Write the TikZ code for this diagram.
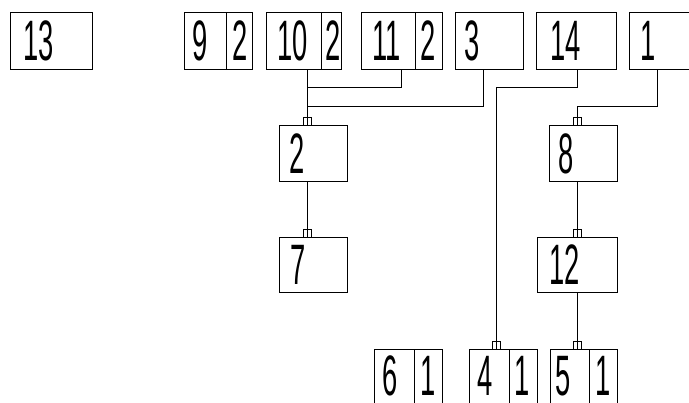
\documentclass[tikz,border=0pt]{standalone}
\usepackage{fontspec}
\setmainfont{Liberation Sans}
\begin{document}
\begin{tikzpicture}[x=1pt,y=-1pt,
  box/.style={draw, line width=0.9pt, rectangle, inner sep=0pt},
  num/.style={inner sep=0pt, font=\fontsize{57}{60}\selectfont},
  tab/.style={draw, line width=0.8pt, rectangle, inner sep=0pt, minimum width=8pt, minimum height=8pt},
  wire/.style={line width=0.8pt}]
\newcommand{\dg}[1]{\scalebox{0.48}[1]{#1}}
\clip (0,0) rectangle (689,403);
\fill[white] (0,0) rectangle (689,403);
% top row
\node[box, minimum width=82pt, minimum height=57pt] (b13) at (51,40.5) {};
\node[box, minimum width=42pt, minimum height=57pt] (b9a) at (205,40.5) {};
\node[box, minimum width=26pt, minimum height=57pt] (b9b) at (239,40.5) {};
\node[box, minimum width=55pt, minimum height=57pt] (b10a) at (293.5,40.5) {};
\node[box, minimum width=20pt, minimum height=57pt] (b10b) at (331,40.5) {};
\node[box, minimum width=54pt, minimum height=57pt] (b11a) at (388,40.5) {};
\node[box, minimum width=27pt, minimum height=57pt] (b11b) at (428.5,40.5) {};
\node[box, minimum width=68pt, minimum height=57pt] (b3) at (489,40.5) {};
\node[box, minimum width=80pt, minimum height=57pt] (b14) at (576,40.5) {};
\node[box, minimum width=80pt, minimum height=57pt] (b1) at (669,40.5) {};
% middle
\node[box, minimum width=68pt, minimum height=56pt] (b2) at (313,153) {};
\node[box, minimum width=68pt, minimum height=56pt] (b8) at (583,153) {};
\node[box, minimum width=68pt, minimum height=55pt] (b7) at (313,264.5) {};
\node[box, minimum width=80pt, minimum height=55pt] (b12) at (577,264.5) {};
% bottom row
\node[box, minimum width=40pt, minimum height=56pt] (b6a) at (394,377) {};
\node[box, minimum width=28pt, minimum height=56pt] (b6b) at (428,377) {};
\node[box, minimum width=40pt, minimum height=56pt] (b4a) at (489,377) {};
\node[box, minimum width=28pt, minimum height=56pt] (b4b) at (523,377) {};
\node[box, minimum width=39pt, minimum height=56pt] (b5a) at (569.5,377) {};
\node[box, minimum width=28pt, minimum height=56pt] (b5b) at (603,377) {};
% digits
\node[num] (t13) at (39,41) {\dg{13}};
\node[num] (t9) at (200,41) {\dg{9}};
\node[num] (t9b) at (240,41) {\dg{2}};
\node[num] (t10) at (293,41) {\dg{10}};
\node[num] (t10b) at (333,41) {\dg{2}};
\node[num] (t11) at (387,41) {\dg{11}};
\node[num] (t11b) at (428,41) {\dg{2}};
\node[num] (t3) at (472,41) {\dg{3}};
\node[num] (t14) at (566,41) {\dg{14}};
\node[num] (t1) at (648,41) {\dg{1}};
\node[num] (t2) at (297,154) {\dg{2}};
\node[num] (t8) at (566,154) {\dg{8}};
\node[num] (t7) at (298,265) {\dg{7}};
\node[num] (t12) at (565,265) {\dg{12}};
\node[num] (t6) at (390,376) {\dg{6}};
\node[num] (t6b) at (428,376) {\dg{1}};
\node[num] (t4) at (485,376) {\dg{4}};
\node[num] (t4b) at (522,376) {\dg{1}};
\node[num] (t5) at (563,376) {\dg{5}};
\node[num] (t5b) at (603,376) {\dg{1}};
% tabs
\node[tab] (s2) at (307,121) {};
\node[tab] (s8) at (577,121) {};
\node[tab] (s7) at (307,233) {};
\node[tab] (s12) at (577,233) {};
\node[tab] (s4) at (496,345) {};
\node[tab] (s5) at (577,345) {};
% junctions
\coordinate (j11) at (401,87);
\coordinate (j3) at (483,106);
\coordinate (j14) at (577,87);
\coordinate (j14b) at (496,87);
\coordinate (j1) at (657,106);
% connectors
\draw[wire] (s2 |- b10a.south) -- (s2.south);
\draw[wire] (j11 |- b11a.south) -- (j11) -- (j11 -| s2);
\draw[wire] (j3 |- b3.south) -- (j3) -- (j3 -| s2);
\draw[wire] (j14 |- b14.south) -- (j14) -- (j14b) -- (s4.south);
\draw[wire] (j1 |- b1.south) -- (j1) -- (j1 -| s8) -- (s8.south);
\draw[wire] (s7 |- b2.south) -- (s7.south);
\draw[wire] (s12 |- b8.south) -- (s12.south);
\draw[wire] (s5 |- b12.south) -- (s5.south);
\end{tikzpicture}
\end{document}
